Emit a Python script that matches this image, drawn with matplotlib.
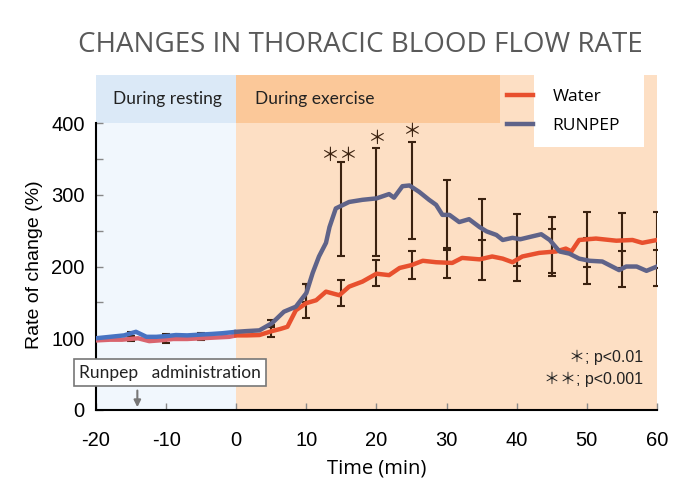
import numpy as np
import matplotlib
matplotlib.use('Agg')
import matplotlib.pyplot as plt
from matplotlib.patches import Rectangle

plt.rcParams['axes.unicode_minus'] = False

# Water (rate of change, %)
water_t = [-20, -18, -16.3, -14, -12.4, -11, -9, -7, -5, -3, -1, 0,
           1.5, 3.3, 5.1, 6.3, 7.3, 8.5, 10, 11.4, 12.8, 14.7, 16.1, 18, 20,
           21.8, 23.3, 25, 26.6, 28.5, 30.8, 32.2, 34.7, 36.5, 38, 39.4, 40.8,
           43.2, 45.6, 47, 47.8, 48.9, 51.3, 54.2, 56.5, 57.9, 60]
water_v = [97, 98, 98, 100, 96, 97, 99, 99, 100, 101, 102, 104,
           104, 104.5, 110, 113, 116, 139, 149, 153, 165, 160, 172, 179, 190,
           188, 198, 202, 208, 206, 205, 212, 210, 214, 211, 206, 214,
           219, 221, 225, 221, 237, 239, 236, 237, 233, 237]

# RUNPEP
runpep_t = [-20, -18, -16, -14.3, -12.8, -11.4, -10, -8.6, -7, -5.3, -3.5, -2, 0,
            1.5, 3.3, 5.1, 6.8, 8.5, 10, 10.9, 11.8, 12.8, 13.3, 14.2, 16.1, 18,
            20, 21.8, 22.5, 23.7, 24.7, 26.1, 27.5, 28.5, 29.4, 30.4, 31.8, 33.2,
            34.7, 35.7, 37.1, 38, 39.4, 40.5, 42.2, 43.5, 44.7, 46.1, 47.5, 48.9,
            50.4, 52.2, 54.6, 55.6, 57.1, 58.5, 60]
runpep_v = [100, 102, 104, 109, 102, 102, 103, 104.5, 104, 105, 106, 107, 109,
            110, 111, 121, 137, 144, 163, 191, 214, 233, 255, 281, 290, 293,
            295, 301, 296, 312, 313, 304, 293, 286, 272, 272, 262, 266,
            255, 249, 244, 237, 240, 238, 242, 245, 237, 221, 218, 211,
            208, 207, 195, 200, 200, 194, 200]

# error bars every 5 min
err_t = [-15, -10, -5, 5, 10, 15, 20, 25, 30, 35, 40, 45, 50, 55, 60]
water_mean = [99, 97, 100, 110, 152, 163, 191, 202, 205, 209, 210, 220, 238, 236, 237]
water_err = [3, 3, 3, 8, 24, 18, 18, 20, 21, 28, 30, 33, 38, 38, 39]
runpep_mean = [106, 103, 105, 121, 163, 280, 290, 306, 272, 252, 237, 230, 208, 197, 198]
runpep_err = [3, 3, 3, 5, 13, 66, 75, 68, 49, 42, 36, 39, 32, 25, 25]

# significance marks
sig_t = [13.3, 15.8, 20, 25]
sig_v = [355, 355, 379, 389]

water_t = np.array(water_t)
water_v = np.array(water_v)
runpep_t = np.array(runpep_t)
runpep_v = np.array(runpep_v)

fig = plt.figure(figsize=(6.99, 5.03), dpi=100)
ax = fig.add_axes([0.1373, 0.1849, 0.8026, 0.6660])
ymax = 467
ax.set_xlim(-20, 60)
ax.set_ylim(0, ymax)

# background bands
ax.axvspan(-20, 0, ymax=1, color='#f1f7fd', zorder=0, lw=0)
ax.axvspan(0, 60, ymax=1, color='#fddfc4', zorder=0, lw=0)
ax.add_patch(Rectangle((-20, 400), 20, ymax - 400, color='#dbe9f7', lw=0, zorder=0.5))
ax.add_patch(Rectangle((0, 400), 37.6, ymax - 400, color='#fbc899', lw=0, zorder=0.5))
ax.text(-9.8, 433, 'During resting', ha='center', va='center', fontsize=12.5,
        family='Lato', color='#222222')
ax.text(2.7, 433, 'During exercise', ha='left', va='center', fontsize=12.5,
        family='Lato', color='#222222')

# error bars
ax.errorbar(err_t, water_mean, yerr=water_err, fmt='none', ecolor='#3b2210',
            elinewidth=1.5, capsize=3, capthick=1.5, zorder=2)
ax.errorbar(err_t, runpep_mean, yerr=runpep_err, fmt='none', ecolor='#3b2210',
            elinewidth=1.5, capsize=3, capthick=1.5, zorder=2)

# lines
pre_w = water_t <= 0
pre_r = runpep_t <= 0
ax.plot(water_t[pre_w], water_v[pre_w], color='#d9646e', lw=3.2, zorder=3,
        solid_capstyle='butt')
ax.plot(runpep_t[pre_r], runpep_v[pre_r], color='#4773c2', lw=3.2, zorder=3.1,
        solid_capstyle='butt')
ax.plot(water_t[~pre_w | (water_t == 0)], water_v[~pre_w | (water_t == 0)],
        color='#e8502e', lw=3.2, zorder=3, label='Water')
ax.plot(runpep_t[~pre_r | (runpep_t == 0)], runpep_v[~pre_r | (runpep_t == 0)],
        color='#5f6389', lw=3.2, zorder=3.1, label='RUNPEP')

for t, v in zip(sig_t, sig_v):
    ax.text(t, v, '＊', ha='center', va='center', fontsize=13.5,
            family=['Noto Sans CJK JP', 'DejaVu Sans'], color='#3b2210')

# legend with white box behind the labels
ax.add_patch(Rectangle((42.4, 366), 15.7, ymax - 366, color='white', lw=0, zorder=4))
leg = ax.legend(loc='upper left', bbox_to_anchor=(0.733, 0.958), frameon=False,
                handlelength=1.5, handletextpad=1.1,
                prop={'family': 'Open Sans', 'size': 12.5}, labelspacing=0.75,
                borderpad=0, borderaxespad=0)
leg.set_zorder(5)

ax.text(58.0, 73, '＊; p<0.01', ha='right', va='center', fontsize=11.5,
        family=['Liberation Sans', 'Noto Sans CJK JP'], color='#222222')
ax.text(58.0, 42, '＊＊; p<0.001', ha='right', va='center', fontsize=11.5,
        family=['Liberation Sans', 'Noto Sans CJK JP'], color='#222222')

# administration box and arrow
ax.text(-22.4, 52, 'Runpep   administration', ha='left', va='center',
        fontsize=12.5, family='Lato', color='#222222', zorder=6, clip_on=False,
        bbox=dict(boxstyle='square,pad=0.3', facecolor='white',
                  edgecolor='#777777', lw=1.2))
ax.annotate('', xy=(-14.1, 0), xytext=(-14.1, 31),
            arrowprops=dict(arrowstyle='-|>', color='#777777', lw=1.5,
                            mutation_scale=10), zorder=6)

# axes styling
for s in ['top', 'right']:
    ax.spines[s].set_visible(False)
ax.spines['left'].set_bounds(0, 400)
ax.spines['left'].set_linewidth(1.5)
ax.spines['bottom'].set_linewidth(1.5)
ax.set_xticks(range(-20, 61, 10))
ax.set_yticks([0, 100, 200, 300, 400])
ax.set_yticks([50, 150, 250, 350], minor=True)
ax.tick_params(axis='both', which='both', direction='in', length=5, width=1,
               labelsize=14.5, color='#888888')
ax.tick_params(axis='y', pad=8)
ax.tick_params(axis='x', pad=15)
for lab in ax.get_xticklabels() + ax.get_yticklabels():
    lab.set_family('Liberation Sans')

ax.set_xlabel('Time (min)', fontsize=14.5, family='Open Sans', labelpad=6)
ax.set_ylabel('Rate of change (%)', fontsize=14, family='Liberation Sans')
ax.yaxis.set_label_coords(-0.095, 0.433)

fig.text(0.515, 0.91, 'CHANGES IN THORACIC BLOOD FLOW RATE', ha='center',
         va='center', fontsize=20, family='Open Sans', color='#595959')

fig.savefig('out.png', dpi=100)
